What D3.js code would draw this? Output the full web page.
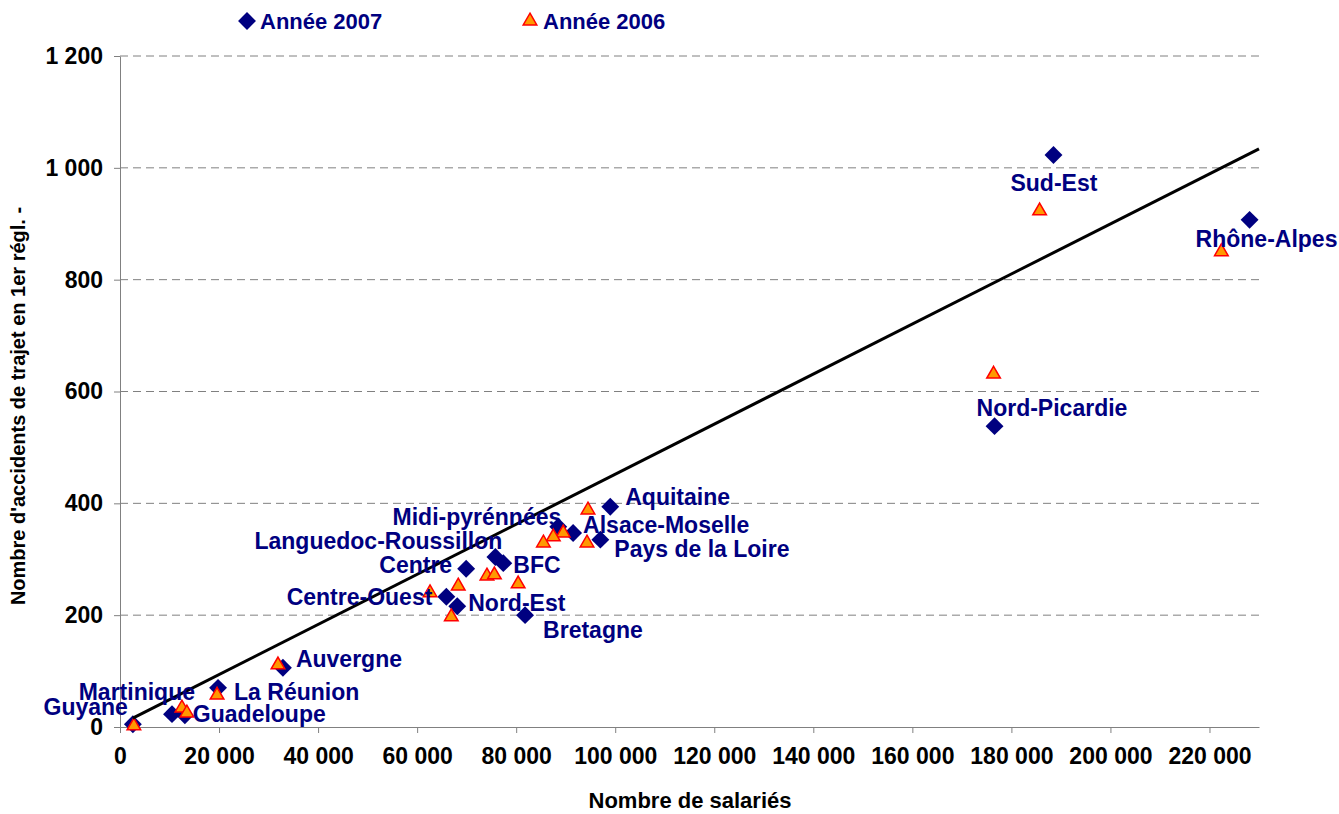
<!DOCTYPE html>
<html>
<head>
<meta charset="utf-8">
<script src="https://cdn.jsdelivr.net/npm/d3@7"></script>
<style>
  body { margin: 0; background: #fff; }
  text { font-family: "Liberation Sans", Arial, sans-serif; font-weight: bold; }
</style>
</head>
<body>
<script>
const width = 1339;
const height = 814;

// 2007 : one point per region
const regions = ['Rhône-Alpes', 'Sud-Est', 'Nord-Picardie', 'Aquitaine', 'Pays de la Loire',
  'Alsace-Moselle', 'Midi-pyrénnées', 'Languedoc-Roussillon', 'BFC', 'Centre', 'Centre-Ouest',
  'Nord-Est', 'Bretagne', 'Auvergne', 'La Réunion', 'Martinique', 'Guadeloupe', 'Guyane'];
const salaries2007 = [228100, 188500, 176600, 99000, 97000, 91500, 88500, 75800, 77400, 69900,
  65900, 68100, 81800, 32900, 19800, 10500, 13100, 2600];
const accidents2007 = [907, 1023, 538, 394, 335, 347, 358, 304, 293, 283,
  233, 216, 200, 106, 70, 23, 21, 5];

// 2006 : triangles (unlabelled)
const salaries2006 = [222400, 185700, 176400, 94500, 89500, 87500, 85500, 94300, 74100, 75600,
  80400, 62600, 68300, 66900, 31900, 19600, 12500, 13500, 2800];
const accidents2006 = [850, 923, 631, 388, 347, 340, 329, 329, 270, 272,
  256, 240, 252, 197, 111, 57, 34, 25, 2];

// linear trend, endpoints
const trendX = [2600, 230000];
const trendY = [16, 1034];

const xTicks = d3.range(0, 220001, 20000);
const yTicks = d3.range(0, 1201, 200);

// label placement: [anchor, dx, dy] relative to the 2007 marker
const labelPos = {
  'Rhône-Alpes': ['start', -54, 19],
  'Sud-Est': ['start', -43, 28],
  'Nord-Picardie': ['start', -18, -18],
  'Aquitaine': ['start', 15, -10],
  'Pays de la Loire': ['start', 14, 9],
  'Alsace-Moselle': ['start', 10, -8],
  'Midi-pyrénnées': ['end', 3, -10],
  'Languedoc-Roussillon': ['end', 7, -16],
  'BFC': ['start', 10, 2],
  'Centre': ['end', -14, -4],
  'Centre-Ouest': ['end', -14, 0],
  'Nord-Est': ['start', 11, -3],
  'Bretagne': ['start', 18, 15],
  'Auvergne': ['start', 13, -9],
  'La Réunion': ['start', 16, 4],
  'Martinique': ['end', 23, -22],
  'Guadeloupe': ['start', 8, -1],
  'Guyane': ['end', -5, -17]
};

const navy = '#000080';

const svg = d3.select('body').append('svg')
  .attr('width', width)
  .attr('height', height);

const x = d3.scaleLinear().domain([0, 230000]).range([120, 1259]);
const y = d3.scaleLinear().domain([0, 1200]).range([727, 56]);

const fmt = v => d3.format(',')(v).replace(/,/g, ' ');

// grid
svg.append('g')
  .selectAll('line')
  .data(yTicks.filter(d => d > 0))
  .enter().append('line')
    .attr('x1', x(0)).attr('x2', x(230000))
    .attr('y1', d => y(d)).attr('y2', d => y(d))
    .attr('stroke', '#808080')
    .attr('stroke-dasharray', '8,5');

// axes
const xAxis = svg.append('g')
  .attr('transform', `translate(0,${y(0)})`)
  .call(d3.axisBottom(x).tickValues(xTicks).tickFormat(fmt).tickSize(6).tickSizeOuter(0));
const yAxis = svg.append('g')
  .attr('transform', `translate(${x(0)},0)`)
  .call(d3.axisLeft(y).tickValues(yTicks).tickFormat(fmt).tickSize(6).tickSizeOuter(0));

[xAxis, yAxis].forEach(a => {
  a.select('.domain').attr('stroke', '#808080');
  a.selectAll('.tick line').attr('stroke', '#808080');
  a.selectAll('.tick text')
    .attr('fill', '#000')
    .style('font-size', '23px')
    .style('font-family', '"Liberation Sans", Arial, sans-serif');
});
xAxis.selectAll('.tick text').attr('dy', '1.2em');
yAxis.selectAll('.tick text').attr('x', -17);

// axis titles
svg.append('text')
  .attr('x', 690).attr('y', 808)
  .attr('text-anchor', 'middle')
  .style('font-size', '22px')
  .text('Nombre de salariés');

svg.append('text')
  .attr('transform', `translate(25,406) rotate(-90)`)
  .attr('text-anchor', 'middle')
  .style('font-size', '20px')
  .text("Nombre d'accidents de trajet en 1er régl. -");

const diamond = d3.symbol().type(d3.symbolSquare).size(160);
const triangle = d3.symbol().type(d3.symbolTriangle).size(80);

// 2007 points
svg.append('g')
  .selectAll('path')
  .data(regions)
  .enter().append('path')
    .attr('d', diamond)
    .attr('transform', (d, i) => `translate(${x(salaries2007[i])},${y(accidents2007[i])}) rotate(45)`)
    .attr('fill', navy);

// 2006 points
svg.append('g')
  .selectAll('path')
  .data(salaries2006)
  .enter().append('path')
    .attr('d', triangle)
    .attr('transform', (d, i) => `translate(${x(d)},${y(accidents2006[i])})`)
    .attr('fill', '#FF9900')
    .attr('stroke', '#FF0000')
    .attr('stroke-width', 1.5);

// trend line
svg.append('line')
  .attr('x1', x(trendX[0])).attr('y1', y(trendY[0]))
  .attr('x2', x(trendX[1])).attr('y2', y(trendY[1]))
  .attr('stroke', '#000')
  .attr('stroke-width', 3);

// labels
svg.append('g')
  .selectAll('text')
  .data(regions)
  .enter().append('text')
    .attr('x', (d, i) => x(salaries2007[i]) + labelPos[d][1])
    .attr('y', (d, i) => y(accidents2007[i]) + labelPos[d][2])
    .attr('text-anchor', d => labelPos[d][0])
    .attr('dominant-baseline', 'central')
    .attr('fill', navy)
    .style('font-size', '23px')
    .text(d => d);

// legend
const legend = svg.append('g');
legend.append('path')
  .attr('d', diamond)
  .attr('transform', 'translate(247,21) rotate(45)')
  .attr('fill', navy);
legend.append('text')
  .attr('x', 260).attr('y', 21)
  .attr('dominant-baseline', 'central')
  .attr('fill', navy)
  .style('font-size', '22px')
  .text('Année 2007');
legend.append('path')
  .attr('d', triangle)
  .attr('transform', 'translate(530,21)')
  .attr('fill', '#FF9900')
  .attr('stroke', '#FF0000')
  .attr('stroke-width', 1.5);
legend.append('text')
  .attr('x', 543).attr('y', 21)
  .attr('dominant-baseline', 'central')
  .attr('fill', navy)
  .style('font-size', '22px')
  .text('Année 2006');
</script>
</body>
</html>
